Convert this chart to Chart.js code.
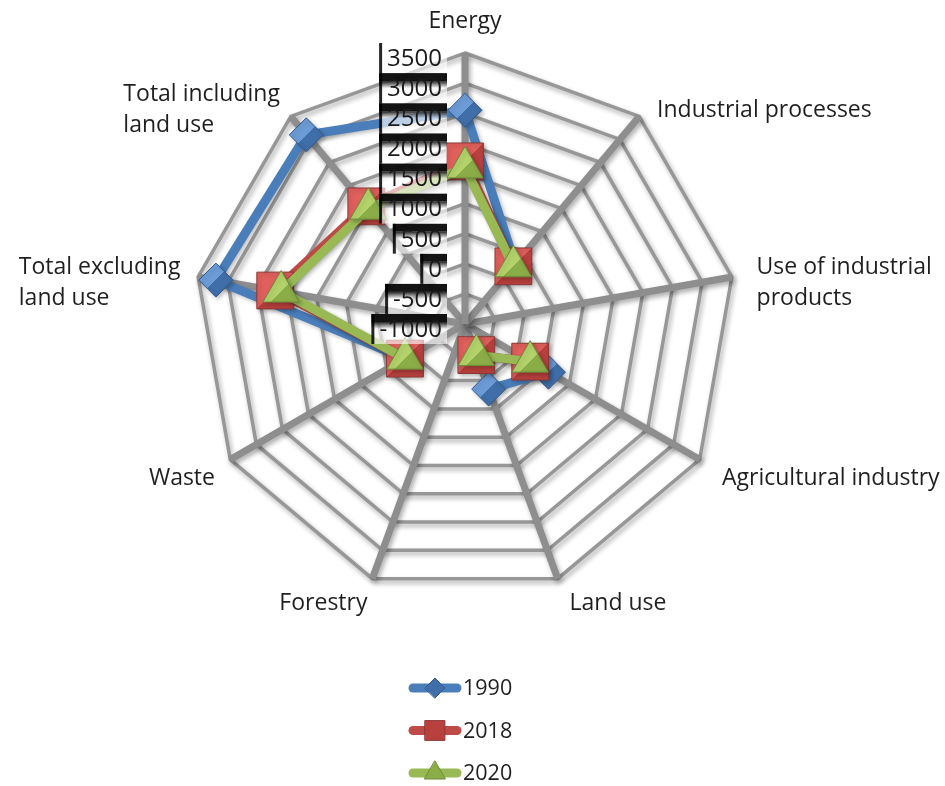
<!DOCTYPE html>
<html>
<head>
<meta charset="utf-8">
<script src="https://cdn.jsdelivr.net/npm/chart.js@4/dist/chart.umd.min.js"></script>
<style>
  html, body { margin: 0; padding: 0; background: #ffffff; }
  canvas { display: block; }
</style>
</head>
<body>
<canvas id="radar" width="945" height="786"></canvas>
<script>
// Emission categories (axes of the radar)
const categories = [
  'Energy',
  'Industrial processes',
  ['Use of industrial', 'products'],
  'Agricultural industry',
  'Land use',
  'Forestry',
  'Waste',
  ['Total excluding', 'land use'],
  ['Total including', 'land use']
];

// Series
const seriesNames = ['1990', '2018', '2020'];
const values1990 = [2550, 300, null, 600, 150, null, 150, 3200, 3100];
const values2018 = [1700, 250, null, 250, -450, null, 150, 2200, 1550];
const values2020 = [1600, 250, null, 250, -450, null, 150, 2100, 1500];

// Value axis
const axisMin = -1000;
const axisMax = 3500;
const axisStep = 500;
const tickLabels = ['-1000', '-500', '0', '500', '1000', '1500', '2000', '2500', '3000', '3500'];

const FONT = '"Open Sans", "Noto Sans", sans-serif';

// Bevel-like fill for the markers: light on the upper left, dark on the lower right
function markerFill(light, dark, radius) {
  return (c) => {
    if (c.raw === null || c.raw === undefined) return dark;
    const s = c.chart.scales.r;
    const p = s.getPointPositionForValue(c.dataIndex, c.raw);
    const g = c.chart.ctx.createLinearGradient(p.x - radius, p.y - radius, p.x + radius, p.y + radius);
    g.addColorStop(0, light);
    g.addColorStop(0.5, light);
    g.addColorStop(0.5, dark);
    g.addColorStop(1, dark);
    return g;
  };
}

const styles = [
  { line: '#4a7ebb', light: '#6c9bd6', dark: '#3f6ea8', border: '#33598a', shape: 'rectRot', r: 17, lr: 10 },
  { line: '#be4b48', light: '#e0605c', dark: '#b8403d', border: '#8c3836', shape: 'rect', r: 26, lr: 14 },
  { line: '#98b954', light: '#b3d36a', dark: '#8aad47', border: '#6e8a3a', shape: 'triangle', r: 21, lr: 12 }
];
const seriesValues = [values1990, values2018, values2020];

const datasets = seriesNames.map((name, k) => ({
  label: name,
  data: seriesValues[k],
  borderColor: styles[k].line,
  borderWidth: 9,
  backgroundColor: 'rgba(0,0,0,0)',
  fill: false,
  spanGaps: false,
  tension: 0,
  order: 3 - k,
  pointStyle: styles[k].shape,
  pointRadius: styles[k].r,
  pointHoverRadius: styles[k].r,
  pointBorderWidth: 1,
  pointBorderColor: styles[k].border,
  pointBackgroundColor: markerFill(styles[k].light, styles[k].dark, styles[k].r)
}));

// Layered drawing: soft shadows for grid and series, the value labels
// on the left of the vertical axis, the axis titles and the legend list.
const decorations = {
  id: 'decorations',
  beforeDraw(chart) {
    const ctx = chart.ctx;
    ctx.save();
    ctx.shadowColor = 'rgba(0,0,0,0.33)';
    ctx.shadowBlur = 5;
    ctx.shadowOffsetX = 2;
    ctx.shadowOffsetY = 3;
  },
  beforeDatasetsDraw(chart) {
    const ctx = chart.ctx;
    ctx.restore();
    ctx.save();
    ctx.shadowColor = 'rgba(0,0,0,0.25)';
    ctx.shadowBlur = 4;
    ctx.shadowOffsetX = 2;
    ctx.shadowOffsetY = 2;
  },
  afterDatasetsDraw(chart) {
    const ctx = chart.ctx;
    ctx.restore();
    const s = chart.scales.r;

    // value labels: boxes with a dark shadow band across their tops
    ctx.save();
    ctx.font = '24px ' + FONT;
    ctx.textAlign = 'right';
    ctx.textBaseline = 'middle';
    const right = s.xCenter - 23;
    const n = s.ticks.length;
    s.ticks.forEach((t, i) => {
      const label = tickLabels[i] !== undefined ? tickLabels[i] : t.label;
      const y = s.yCenter - s.getDistanceFromCenterForValue(t.value) + 5;
      const w = ctx.measureText(label).width + 6;
      const x0 = right - w;
      ctx.fillStyle = 'rgba(255,255,255,0.62)';
      ctx.fillRect(x0, y - 15, w + 5, 30);
      if (i < n - 1) {
        ctx.fillStyle = 'rgba(0,0,0,0.92)';
        ctx.fillRect(x0 - 2, y - 15, w + 7, 8);
        const g = ctx.createLinearGradient(0, y - 7, 0, y);
        g.addColorStop(0, 'rgba(0,0,0,0.85)');
        g.addColorStop(1, 'rgba(0,0,0,0)');
        ctx.fillStyle = g;
        ctx.fillRect(x0 - 2, y - 7, w + 7, 7);
      }
      ctx.fillStyle = 'rgba(0,0,0,0.85)';
      ctx.fillRect(x0 - 2, y - 15, 3, 30);
      ctx.fillStyle = '#1a1a1a';
      ctx.fillText(label, right, y + 1);
    });
    ctx.restore();
  },
  afterDraw(chart) {
    const ctx = chart.ctx;
    const s = chart.scales.r;

    // axis titles
    ctx.save();
    ctx.font = '23px ' + FONT;
    ctx.fillStyle = '#1f1f1f';
    ctx.textAlign = 'left';
    ctx.textBaseline = 'middle';
    const lh = 31;
    categories.forEach((lab, i) => {
      const lines = Array.isArray(lab) ? lab : [lab];
      const p = s.getPointPosition(i, s.drawingArea + 20);
      const a = s.getIndexAngle(i);
      const sx = Math.sin(a), cy = Math.cos(a);
      const W = Math.max(...lines.map(l => ctx.measureText(l).width));
      const H = lines.length * lh;
      const left = sx > 0.1 ? p.x + 5 : (sx < -0.1 ? p.x - W + 2 : p.x - W / 2);
      const top = cy > 0.9 ? p.y - H + 4 : (cy < -0.9 ? p.y - 9 : p.y - H / 2 + 9);
      lines.forEach((l, k) => ctx.fillText(l, left, top + lh / 2 + k * lh));
    });
    ctx.restore();

    // legend list
    ctx.save();
    ctx.font = '21.5px ' + FONT;
    ctx.textAlign = 'left';
    ctx.textBaseline = 'middle';
    chart.data.datasets.forEach((ds, k) => {
      const y = 688 + k * 42.5;
      const st = styles[k];
      ctx.strokeStyle = ds.borderColor;
      ctx.lineWidth = 9;
      ctx.lineCap = 'round';
      ctx.beginPath();
      ctx.moveTo(413, y);
      ctx.lineTo(457, y);
      ctx.stroke();
      ctx.fillStyle = st.dark;
      ctx.strokeStyle = st.border;
      ctx.lineWidth = 1;
      Chart.helpers.drawPoint(ctx, { pointStyle: st.shape, radius: st.lr, borderWidth: 1, rotation: 0 }, 435, y);
      ctx.fillStyle = '#1f1f1f';
      ctx.fillText(ds.label, 463, y + 1);
    });
    ctx.restore();
  }
};

new Chart(document.getElementById('radar'), {
  type: 'radar',
  data: { labels: categories, datasets },
  options: {
    responsive: false,
    maintainAspectRatio: false,
    animation: false,
    layout: { padding: { left: 194, right: 209, top: 53, bottom: 191 } },
    plugins: {
      legend: { display: false },
      title: { display: false },
      tooltip: { enabled: false }
    },
    elements: { line: { borderJoinStyle: 'round' } },
    scales: {
      r: {
        min: axisMin,
        max: axisMax,
        startAngle: 0,
        ticks: { stepSize: axisStep, display: false, callback: (v) => String(v) },
        pointLabels: { display: false },
        grid: { circular: false, color: '#979797', lineWidth: 3.5 },
        angleLines: { display: true, color: '#8e8e8e', lineWidth: 7 }
      }
    }
  },
  plugins: [decorations]
});
</script>
</body>
</html>
